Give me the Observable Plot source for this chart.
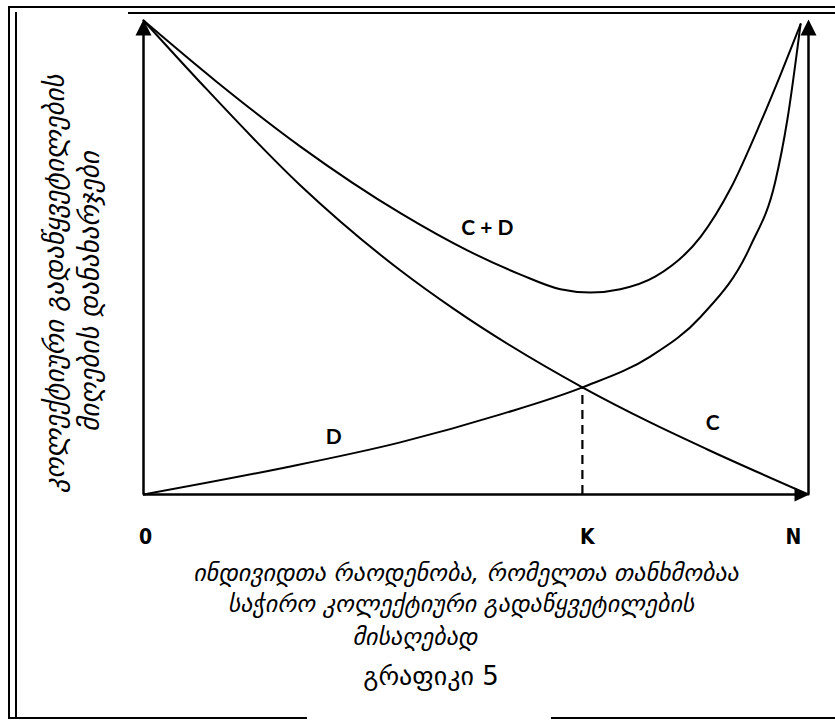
<!DOCTYPE html>
<html>
<head>
<meta charset="utf-8">
<script src="https://cdn.jsdelivr.net/npm/d3@7"></script>
<script src="https://cdn.jsdelivr.net/npm/@observablehq/plot@0.6"></script>
<style>
  body { margin: 0; background: white; }
  #wrap { position: relative; width: 835px; height: 721px; overflow: hidden; background: white; }
  #wrap svg { position: absolute; left: 0; top: 0; }
  .bl { position: absolute; background: #000; }
</style>
</head>
<body>
<div id="wrap"></div>
<script>
// ---- data (x: number of individuals, 0..N; y: costs) ----
const N = 100;
const K = 66.0;
const cX  = [0, 8.3, 23.6, 38.6, 46.6, 66.0, 76.2, 84.8, 100];
const cY  = [100, 87.3, 65.2, 47.3, 39.2, 22.6, 15.2, 9.5, 0];
const dX  = [0, 20.6, 38.6, 53.7, 66.0, 76.2, 83.8, 91.3, 95.0, 96.8, 98.8];
const dY  = [0, 5.5, 11.0, 16.9, 22.6, 29.1, 37.5, 52.5, 66.0, 78.9, 99.2];
const cdX = [0, 10.8, 23.6, 38.7, 48.7, 56.7, 62.7, 67.2, 71.7, 77.0, 83.8, 88.3, 92.8, 95.8, 98.8];
const cdY = [100, 87.3, 73.4, 59.3, 51.5, 46.4, 43.3, 42.6, 43.3, 46.0, 54.4, 64.6, 78.5, 88.6, 99.2];
const curveLabels = ["C + D", "D", "C"];
const curveLabelX = [51.7, 28.6, 85.6];
const curveLabelY = [56.1, 12.0, 15.0];
const yTitle = ["კოლექტიური გადაწყვეტილების", "მიღების დანახარჯები"];
const xTitle = ["ინდივიდთა რაოდენობა, რომელთა თანხმობაა", "საჭირო კოლექტიური გადაწყვეტილების", "მისაღებად"];
const caption = "გრაფიკი 5";

const toPts = (xs, ys) => xs.map((x, i) => ({x, y: ys[i]}));
const C = toPts(cX, cY), D = toPts(dX, dY), CD = toPts(cdX, cdY);
const labels = curveLabels.map((t, i) => ({t, x: curveLabelX[i], y: curveLabelY[i]}));

const triUp = {draw(ctx) { ctx.moveTo(0, -1); ctx.lineTo(-8, 15); ctx.lineTo(8, 15); ctx.closePath(); }};
const triRight = {draw(ctx) { ctx.moveTo(1, 0); ctx.lineTo(-14, -7); ctx.lineTo(-14, 7); ctx.closePath(); }};

const geo = "DejaVu Sans, sans-serif";
const lab = {fontFamily: "Lato, sans-serif", fontWeight: "bold", fontSize: 21, fill: "black"};
const tick = {fontFamily: "Liberation Sans Narrow, DejaVu Sans Condensed, sans-serif", fontWeight: "bold", fontSize: 21, fill: "black"};
const yt = {frameAnchor: "left", textAnchor: "middle", text: d => d, rotate: -90, fontFamily: geo, fontStyle: "italic", fontSize: 27, fill: "black"};
const xt = {frameAnchor: "bottom", textAnchor: "middle", text: d => d, fontFamily: geo, fontStyle: "italic", fontSize: 24, fill: "black"};

const plot = Plot.plot({
  width: 835, height: 721,
  marginLeft: 143, marginRight: 27, marginTop: 20, marginBottom: 227,
  x: {domain: [0, N], axis: null},
  y: {domain: [0, 100], axis: null},
  marks: [
    // axes
    Plot.ruleX([0], {y1: 0, y2: 99, stroke: "black", strokeWidth: 2.5}),
    Plot.ruleX([N], {y1: 0, y2: 99, stroke: "black", strokeWidth: 2.5}),
    Plot.ruleY([0], {x1: 0, x2: N - 1, stroke: "black", strokeWidth: 2.5}),
    Plot.dot([[0, 100], [N, 100]], {x: d => d[0], y: d => d[1], symbol: triUp, r: 8, fill: "black", stroke: "none"}),
    Plot.dot([[N, 0]], {x: d => d[0], y: d => d[1], symbol: triRight, r: 8, fill: "black", stroke: "none"}),
    // curves
    Plot.line(C,  {x: "x", y: "y", curve: "monotone-x", stroke: "black", strokeWidth: 2}),
    Plot.line(D,  {x: "x", y: "y", curve: "monotone-x", stroke: "black", strokeWidth: 2}),
    Plot.line(CD, {x: "x", y: "y", curve: "monotone-x", stroke: "black", strokeWidth: 2}),
    // K dashed
    Plot.ruleX([K], {y1: 0, y2: cY[5], stroke: "black", strokeWidth: 2.2, strokeDasharray: "9,6"}),
    // curve labels
    Plot.text(labels, {x: "x", y: "y", text: "t", ...lab}),
    // axis point labels
    Plot.text(["0"], {x: 0, y: 0, text: d => d, dx: 2, dy: 43, ...tick}),
    Plot.text(["K"], {x: K, y: 0, text: d => d, dx: 5, dy: 43, ...tick}),
    Plot.text(["N"], {x: N, y: 0, text: d => d, dx: -15, dy: 43, ...tick}),
    // y title
    Plot.text([yTitle[0]], {...yt, dx: -88, dy: 26}),
    Plot.text([yTitle[1]], {...yt, dx: -53, dy: 34}),
    // x title
    Plot.text([xTitle[0]], {...xt, dx: -10, dy: 86}),
    Plot.text([xTitle[1]], {...xt, dx: -15, dy: 117}),
    Plot.text([xTitle[2]], {...xt, dx: -61, dy: 150}),
    Plot.text([caption], {...xt, fontStyle: "normal", fontSize: 26, dx: -45, dy: 190})
  ]
});
const wrap = document.getElementById("wrap");
wrap.appendChild(plot);

// decorative double frame
const lines = [
  [8, 6, 827, 2], [128, 12, 707, 2],
  [8, 6, 2, 713], [15, 12, 2, 705],
  [8, 717, 299, 2], [551, 717, 284, 2]
];
for (const [l, t, w, h] of lines) {
  const el = document.createElement("div");
  el.className = "bl";
  el.style.cssText = `left:${l}px;top:${t}px;width:${w}px;height:${h}px`;
  wrap.appendChild(el);
}
</script>
</body>
</html>
